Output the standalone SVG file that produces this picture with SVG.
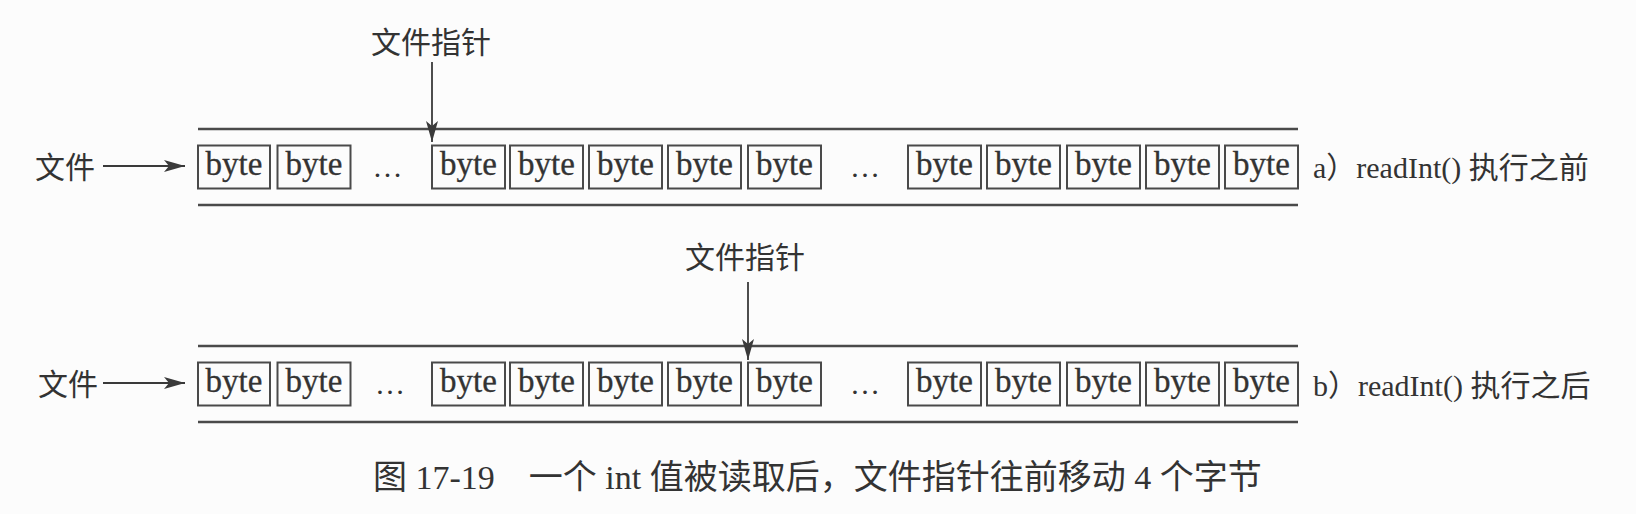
<svg xmlns="http://www.w3.org/2000/svg" width="1636" height="514" viewBox="0 0 1636 514">
<defs>
<style>
.bg{fill:#fcfcfc}
.rail{stroke:#4a4a4a;stroke-width:2.5;fill:none}
.box{fill:none;stroke:#4a4a4a;stroke-width:2}
.bt{font-family:"Liberation Serif","Times New Roman",serif;font-size:33px;fill:#333;stroke:#333;stroke-width:0.3;text-anchor:middle}
.dots{font-family:"Liberation Serif","Times New Roman",serif;font-size:30px;fill:#333;text-anchor:middle}
.cn{font-family:"Noto Sans CJK SC",sans-serif;font-size:30px;fill:#333}
.mix{font-family:"Liberation Serif","Noto Sans CJK SC",serif;font-size:30px;fill:#333}
.cap{font-family:"Liberation Serif","Noto Sans CJK SC",serif;font-size:34px;fill:#333}
.arr{stroke:#3a3a3a;stroke-width:1.8;fill:none;marker-end:url(#ah)}
</style>
<marker id="ah" markerUnits="userSpaceOnUse" viewBox="0 0 21 12" markerWidth="21" markerHeight="12" refX="21" refY="6" orient="auto">
<path d="M0,0 L21,6 L0,12 L5,6 z" fill="#3a3a3a"/>
</marker>
</defs>
<rect class="bg" x="0" y="0" width="1636" height="514"/>

<g id="row-a">
<g id="rails-a">
<line class="rail" x1="198" y1="129" x2="1298" y2="129"/>
<line class="rail" x1="198" y1="205" x2="1298" y2="205"/>
</g>
<g id="a-b1"><rect class="box" x="198" y="145.5" width="72" height="43"/><text class="bt" x="234" y="175">byte</text></g>
<g id="a-b2"><rect class="box" x="277.5" y="145.5" width="73" height="43"/><text class="bt" x="314" y="175">byte</text></g>
<g id="a-dots1"><text class="dots" x="387.5" y="177">…</text></g>
<g id="a-b3"><rect class="box" x="432" y="145.5" width="73" height="43"/><text class="bt" x="468.5" y="175">byte</text></g>
<g id="a-b4"><rect class="box" x="510" y="145.5" width="73" height="43"/><text class="bt" x="546.5" y="175">byte</text></g>
<g id="a-b5"><rect class="box" x="589" y="145.5" width="73" height="43"/><text class="bt" x="625.5" y="175">byte</text></g>
<g id="a-b6"><rect class="box" x="668" y="145.5" width="73" height="43"/><text class="bt" x="704.5" y="175">byte</text></g>
<g id="a-b7"><rect class="box" x="748" y="145.5" width="73" height="43"/><text class="bt" x="784.5" y="175">byte</text></g>
<g id="a-dots2"><text class="dots" x="865" y="177">…</text></g>
<g id="a-b8"><rect class="box" x="908" y="145.5" width="73" height="43"/><text class="bt" x="944.5" y="175">byte</text></g>
<g id="a-b9"><rect class="box" x="987" y="145.5" width="73" height="43"/><text class="bt" x="1023.5" y="175">byte</text></g>
<g id="a-b10"><rect class="box" x="1067" y="145.5" width="73" height="43"/><text class="bt" x="1103.5" y="175">byte</text></g>
<g id="a-b11"><rect class="box" x="1146" y="145.5" width="73" height="43"/><text class="bt" x="1182.5" y="175">byte</text></g>
<g id="a-b12"><rect class="box" x="1225" y="145.5" width="73" height="43"/><text class="bt" x="1261.5" y="175">byte</text></g>
<g id="a-file"><text class="cn" x="35" y="178">文件</text></g>
<g id="a-pointer"><text class="cn" x="431" y="53" text-anchor="middle">文件指针</text></g>
<g id="a-label"><text class="mix" x="1313" y="178">a）readInt() 执行之前</text></g>
</g>

<g id="row-b">
<g id="rails-b">
<line class="rail" x1="198" y1="346" x2="1298" y2="346"/>
<line class="rail" x1="198" y1="422" x2="1298" y2="422"/>
</g>
<g id="b-b1"><rect class="box" x="198" y="362.5" width="72" height="43"/><text class="bt" x="234" y="392">byte</text></g>
<g id="b-b2"><rect class="box" x="277.5" y="362.5" width="73" height="43"/><text class="bt" x="314" y="392">byte</text></g>
<g id="b-dots1"><text class="dots" x="390" y="394">…</text></g>
<g id="b-b3"><rect class="box" x="432" y="362.5" width="73" height="43"/><text class="bt" x="468.5" y="392">byte</text></g>
<g id="b-b4"><rect class="box" x="510" y="362.5" width="73" height="43"/><text class="bt" x="546.5" y="392">byte</text></g>
<g id="b-b5"><rect class="box" x="589" y="362.5" width="73" height="43"/><text class="bt" x="625.5" y="392">byte</text></g>
<g id="b-b6"><rect class="box" x="668" y="362.5" width="73" height="43"/><text class="bt" x="704.5" y="392">byte</text></g>
<g id="b-b7"><rect class="box" x="748" y="362.5" width="73" height="43"/><text class="bt" x="784.5" y="392">byte</text></g>
<g id="b-dots2"><text class="dots" x="865" y="394">…</text></g>
<g id="b-b8"><rect class="box" x="908" y="362.5" width="73" height="43"/><text class="bt" x="944.5" y="392">byte</text></g>
<g id="b-b9"><rect class="box" x="987" y="362.5" width="73" height="43"/><text class="bt" x="1023.5" y="392">byte</text></g>
<g id="b-b10"><rect class="box" x="1067" y="362.5" width="73" height="43"/><text class="bt" x="1103.5" y="392">byte</text></g>
<g id="b-b11"><rect class="box" x="1146" y="362.5" width="73" height="43"/><text class="bt" x="1182.5" y="392">byte</text></g>
<g id="b-b12"><rect class="box" x="1225" y="362.5" width="73" height="43"/><text class="bt" x="1261.5" y="392">byte</text></g>
<g id="b-file"><text class="cn" x="38" y="395">文件</text></g>
<g id="b-pointer"><text class="cn" x="745" y="268" text-anchor="middle">文件指针</text></g>
<g id="b-label"><text class="mix" x="1313" y="396">b）readInt() 执行之后</text></g>
</g>

<g id="connectors">
<line class="arr" x1="103" y1="166" x2="185" y2="166"/>
<line class="arr" x1="432" y1="62" x2="432" y2="142"/>
<line class="arr" x1="103" y1="383" x2="185" y2="383"/>
<line class="arr" x1="748" y1="282" x2="748" y2="360"/>
</g>

<g id="caption"><text class="cap" x="373" y="489">图 17-19　一个 int 值被读取后，文件指针往前移动 4 个字节</text></g>
</svg>
